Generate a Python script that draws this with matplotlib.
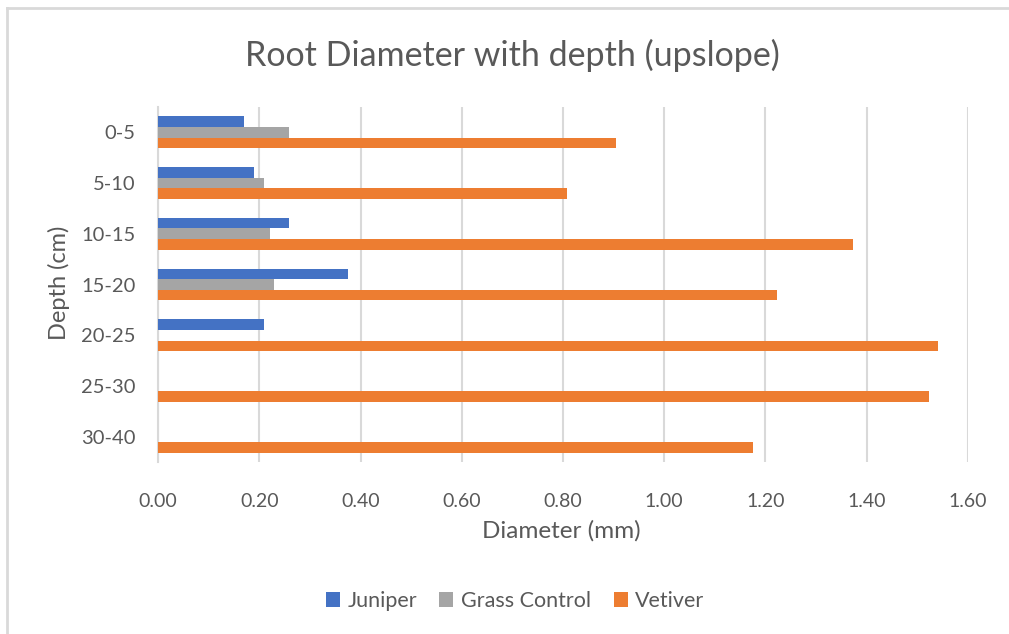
import matplotlib
matplotlib.use("Agg")
import matplotlib.pyplot as plt
from matplotlib.lines import Line2D
from matplotlib.patches import Patch
import numpy as np

# Depth intervals and mean root diameters (mm)
depths = ["0-5", "5-10", "10-15", "15-20", "20-25", "25-30", "30-40"]
juniper = [0.170, 0.190, 0.259, 0.375, 0.210, 0.0, 0.0]
grass_control = [0.259, 0.210, 0.222, 0.230, 0.0, 0.0, 0.0]
vetiver = [0.904, 0.808, 1.372, 1.222, 1.540, 1.523, 1.176]
x_ticks = [0.0, 0.2, 0.4, 0.6, 0.8, 1.0, 1.2, 1.4, 1.6]

series_names = ["Juniper", "Grass Control", "Vetiver"]
series_colors = ["#4472C4", "#A5A5A5", "#ED7D31"]
text_color = "#595959"
grid_color = "#D9D9D9"
font = "Lato"

W, H = 1009, 634
fig = plt.figure(figsize=(W / 100, H / 100), dpi=100)
fig.patch.set_facecolor("white")

left, right, top, bottom = 158, 968, 107, 462
ax = fig.add_axes([left / W, 1 - bottom / H, (right - left) / W, (bottom - top) / H])

y = np.arange(len(depths))
h = 0.21
for k, (vals, color) in enumerate(zip([juniper, grass_control, vetiver], series_colors)):
    ax.barh(y + (k - 1) * h, vals, height=h, color=color, zorder=3)

ax.set_xlim(0, 1.6)
ax.set_ylim(len(depths) - 0.5, -0.5)
ax.set_xticks(x_ticks)
ax.set_xticklabels([f"{v:.2f}" for v in x_ticks], fontsize=14, color=text_color, family=font)
ax.set_yticks(y)
ax.set_yticklabels(depths, fontsize=14.5, color=text_color, family=font)
ax.tick_params(axis="both", length=0)
ax.tick_params(axis="x", pad=22)
ax.tick_params(axis="y", pad=16)

ax.grid(axis="x", color=grid_color, linewidth=1.5, zorder=0)
for s in ["top", "right", "bottom"]:
    ax.spines[s].set_visible(False)
ax.spines["left"].set_color(grid_color)
ax.spines["left"].set_linewidth(1.5)
ax.spines["left"].set_zorder(2)

fig.text(512 / W, 1 - 55 / H, "Root Diameter with depth (upslope)", ha="center", va="center",
         fontsize=24.5, color=text_color, family=font)
fig.text(561 / W, 1 - 531 / H, "Diameter (mm)", ha="center", va="center",
         fontsize=17.5, color=text_color, family=font)
fig.text(59 / W, 1 - 283 / H, "Depth (cm)", ha="center", va="center", rotation=90,
         fontsize=17, color=text_color, family=font)

handles = [Patch(facecolor=c, edgecolor="none") for c in series_colors]
leg = fig.legend(handles, series_names, loc="center", bbox_to_anchor=(515 / W, 1 - 601 / H),
                 ncol=3, frameon=False, handlelength=0.65, handleheight=0.65, handletextpad=0.35,
                 columnspacing=1.05, prop={"family": font, "size": 15.5})
for t in leg.get_texts():
    t.set_color(text_color)

# chart area border (top and left edges)
fig.add_artist(Line2D([7 / W, 1], [1 - 8 / H, 1 - 8 / H], color=grid_color, linewidth=2,
                      transform=fig.transFigure))
fig.add_artist(Line2D([7 / W, 7 / W], [1 - 8 / H, 0], color=grid_color, linewidth=2,
                      transform=fig.transFigure))

fig.savefig("out.png", dpi=100, facecolor="white")
